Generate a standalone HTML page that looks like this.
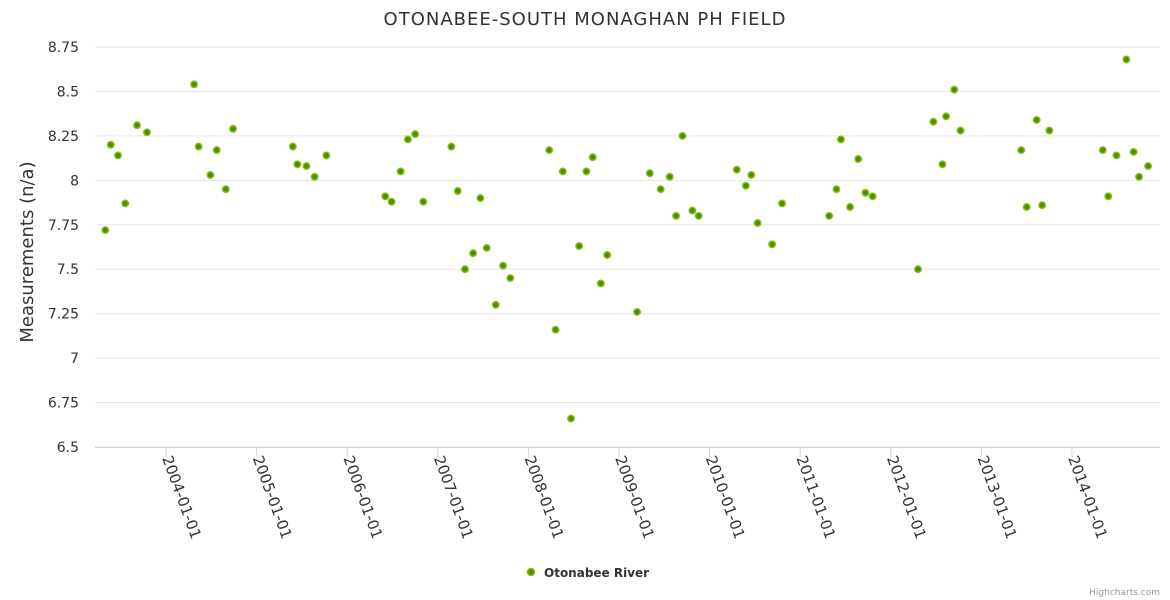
<!DOCTYPE html>
<html><head><meta charset="utf-8"><style>
body{margin:0;background:#fff;}
svg{display:block;font-family:"DejaVu Sans","Liberation Sans",sans-serif;}
</style></head><body>
<svg id="chart" width="1170" height="600">
<text x="585" y="25" text-anchor="middle" font-size="18" letter-spacing="1" fill="#333">OTONABEE-SOUTH MONAGHAN PH FIELD</text>
<text transform="translate(33,252) rotate(-90)" text-anchor="middle" font-size="18" fill="#333">Measurements (n/a)</text>
<g id="grid"></g><g id="xaxis"></g><g id="points"></g>
<g>
<circle cx="531" cy="572" r="3.5" fill="#4d8c00" stroke="#86bf14" stroke-width="1.5"/>
<text x="544" y="577" font-size="12" font-weight="bold" fill="#333">Otonabee River</text>
</g>
<text x="1160" y="595" text-anchor="end" font-size="9" fill="#999">Highcharts.com</text>
</svg>
<script>
const dates=[2003.33,2003.39,2003.47,2003.55,2003.68,2003.79,2004.31,2004.36,2004.49,2004.56,2004.66,2004.74,2005.40,2005.45,2005.55,2005.64,2005.77,2006.42,2006.49,2006.59,2006.67,2006.75,2006.84,2007.15,2007.22,2007.30,2007.39,2007.47,2007.54,2007.64,2007.72,2007.80,2008.23,2008.30,2008.38,2008.47,2008.56,2008.64,2008.71,2008.80,2008.87,2009.20,2009.34,2009.46,2009.56,2009.63,2009.70,2009.81,2009.88,2010.30,2010.40,2010.46,2010.53,2010.69,2010.80,2011.32,2011.40,2011.45,2011.55,2011.64,2011.72,2011.80,2012.30,2012.47,2012.57,2012.61,2012.70,2012.77,2013.44,2013.50,2013.61,2013.67,2013.75,2014.34,2014.40,2014.49,2014.60,2014.68,2014.74,2014.84];
const values=[7.72,8.20,8.14,7.87,8.31,8.27,8.54,8.19,8.03,8.17,7.95,8.29,8.19,8.09,8.08,8.02,8.14,7.91,7.88,8.05,8.23,8.26,7.88,8.19,7.94,7.50,7.59,7.90,7.62,7.30,7.52,7.45,8.17,7.16,8.05,6.66,7.63,8.05,8.13,7.42,7.58,7.26,8.04,7.95,8.02,7.80,8.25,7.83,7.80,8.06,7.97,8.03,7.76,7.64,7.87,7.80,7.95,8.23,7.85,8.12,7.93,7.91,7.50,8.33,8.09,8.36,8.51,8.28,8.17,7.85,8.34,7.86,8.28,8.17,7.91,8.14,8.68,8.16,8.02,8.08];
const yTicks=[6.5,6.75,7,7.25,7.5,7.75,8,8.25,8.5,8.75];
const yLabels=["6.5","6.75","7","7.25","7.5","7.75","8","8.25","8.5","8.75"];
const xTicks=[2004,2005,2006,2007,2008,2009,2010,2011,2012,2013,2014];
const xLabels=["2004-01-01","2005-01-01","2006-01-01","2007-01-01","2008-01-01","2009-01-01","2010-01-01","2011-01-01","2012-01-01","2013-01-01","2014-01-01"];
const NS="http://www.w3.org/2000/svg";
const X=d=>166+(d-2004)*90.6;
const Y=v=>447-(v-6.5)/2.25*400;
function mk(t,a,p){const e=document.createElementNS(NS,t);for(const k in a)e.setAttribute(k,a[k]);p.appendChild(e);return e;}
const grid=document.getElementById('grid'),xa=document.getElementById('xaxis'),pts=document.getElementById('points');
yTicks.forEach((v,i)=>{
 const l=mk('line',{x1:95,x2:1160,y1:Y(v),y2:Y(v),stroke:'#e6e6e6','stroke-width':1},grid);
 
 
 const t=mk('text',{x:79,y:Y(v)+5,'text-anchor':'end','font-size':14,fill:'#333'},grid);
 t.textContent=yLabels[i];
 
 
});
const ax=mk('line',{x1:95,x2:1160,y1:447.5,y2:447.5,stroke:'#ccd6eb','stroke-width':1},xa);


xTicks.forEach((d,i)=>{
 const x=X(d);
 const tk=mk('line',{x1:x,x2:x,y1:447,y2:457,stroke:'#ccd6eb','stroke-width':1},xa);
 
 
 const t=mk('text',{transform:`translate(${x-4},${458}) rotate(70)`,'font-size':15,fill:'#333'},xa);
 t.textContent=xLabels[i];
 
 
});
dates.forEach((d,i)=>{
 const c=mk('circle',{cx:X(d),cy:Y(values[i]),r:3.2,fill:'#4d8c00',stroke:'#86bf14','stroke-width':1.5},pts);
 
 
});
</script>
</body></html>
